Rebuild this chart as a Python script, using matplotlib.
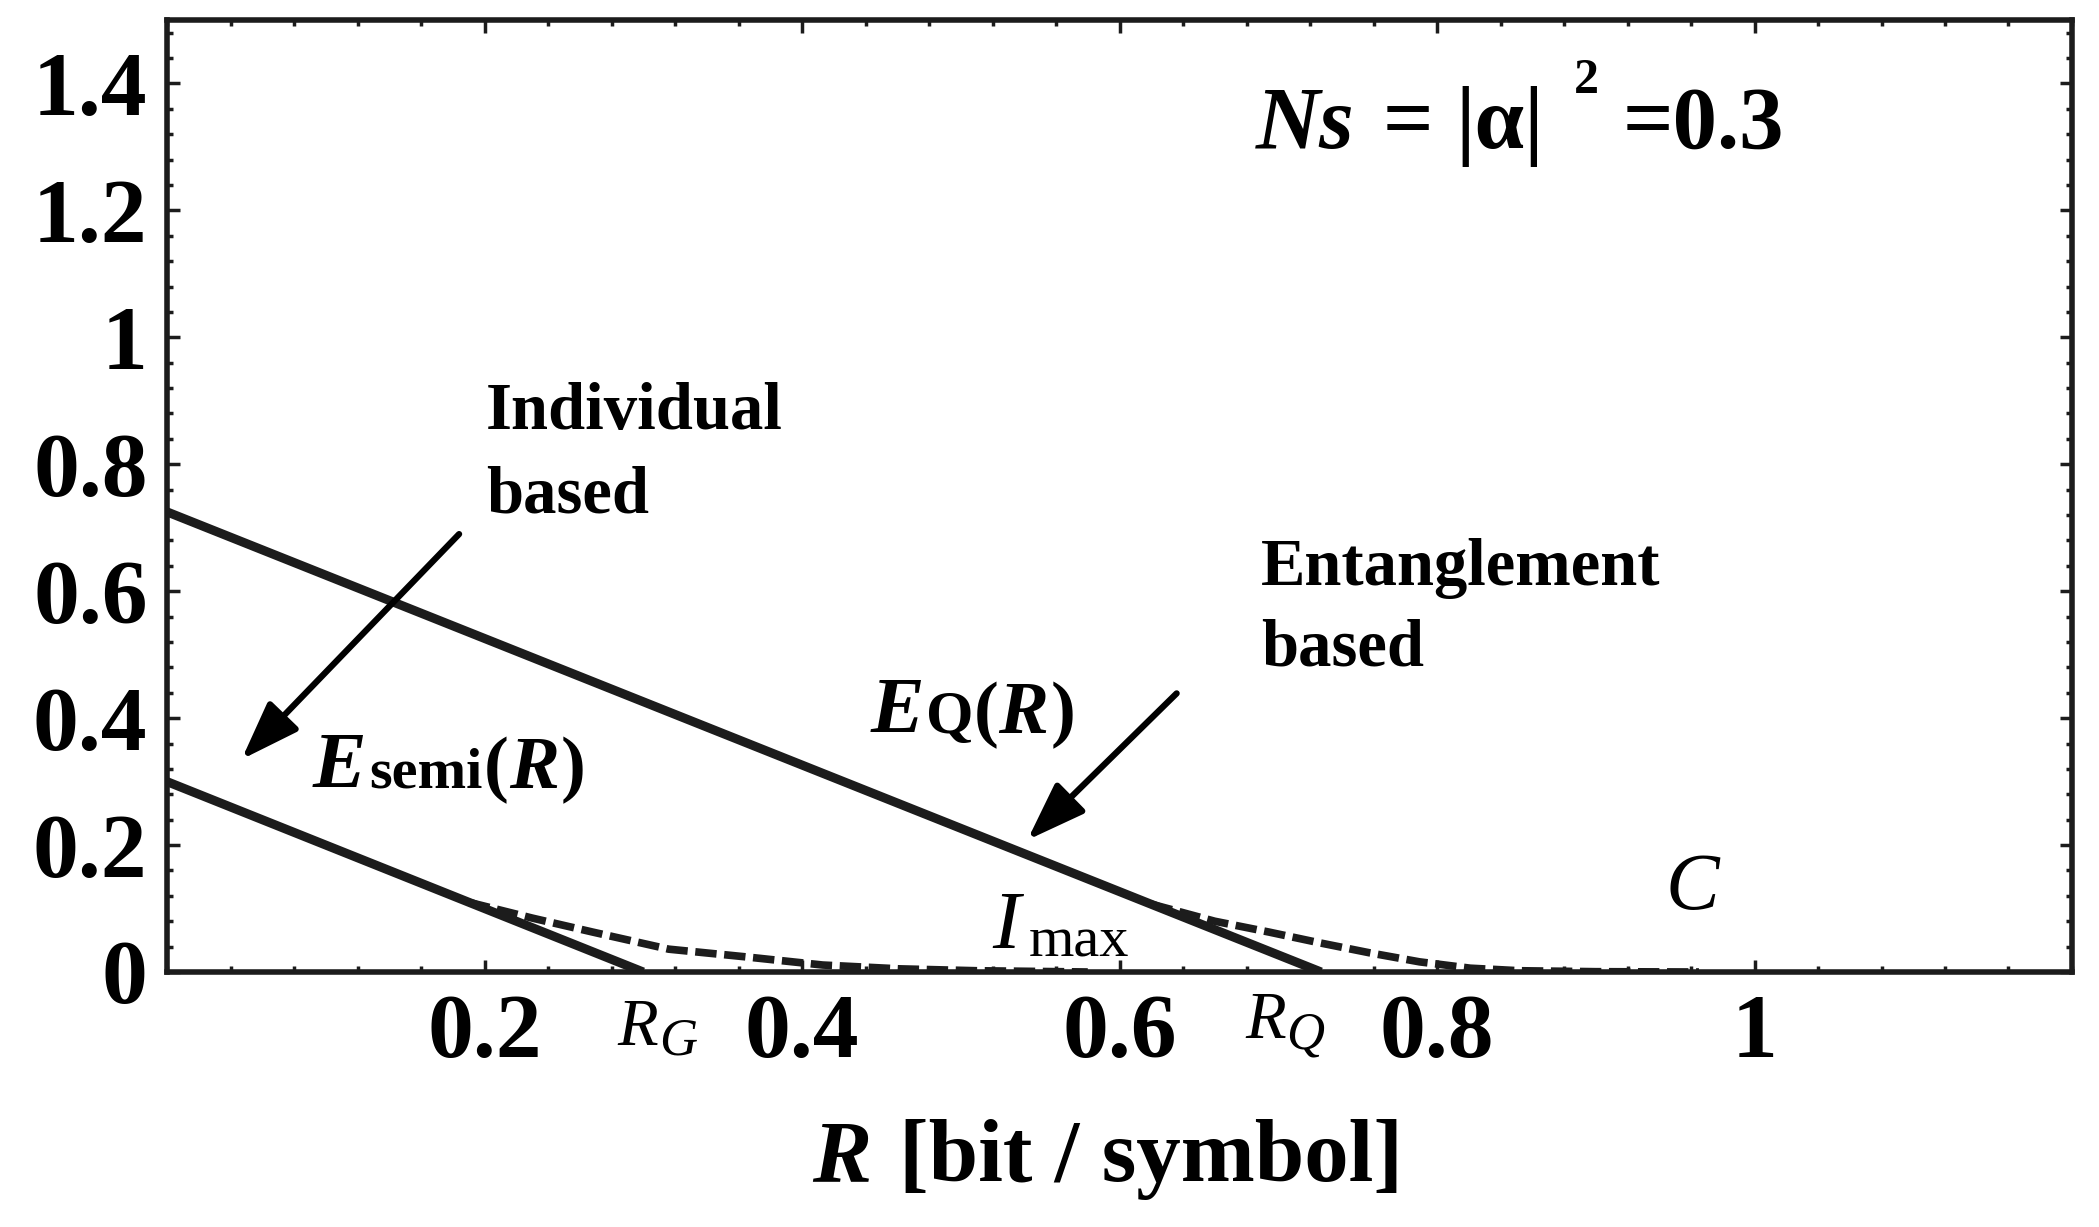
import matplotlib
matplotlib.use('Agg')
import matplotlib.pyplot as plt
from matplotlib.transforms import IdentityTransform
from matplotlib.ticker import MultipleLocator

plt.rcParams['font.family'] = ['Liberation Serif', 'DejaVu Serif']

# straight-line error exponents
semi_R = [0.0, 0.30]
semi_E = [0.30, 0.0]
q_R = [0.0, 0.727]
q_E = [0.725, 0.0]

# dashed I_max curves
imax_semi_R = [0.19, 0.23, 0.268, 0.316, 0.364, 0.413, 0.461, 0.51, 0.58]
imax_semi_E = [0.11, 0.085, 0.063, 0.036, 0.024, 0.011, 0.005, 0.002, 0.0]
imax_q_R = [0.62, 0.66, 0.694, 0.726, 0.758, 0.789, 0.821, 0.852, 0.90, 0.965]
imax_q_E = [0.107, 0.08, 0.063, 0.046, 0.030, 0.016, 0.006, 0.002, 0.0005, 0.0]

xticks = [0.2, 0.4, 0.6, 0.8, 1.0]
xtick_labels = ['0.2', '0.4', '0.6', '0.8', '1']
yticks = [0, 0.2, 0.4, 0.6, 0.8, 1.0, 1.2, 1.4]
ytick_labels = ['0', '0.2', '0.4', '0.6', '0.8', '1', '1.2', '1.4']

W, H = 2099, 1227
fig = plt.figure(figsize=(W / 100, H / 100), dpi=100)
ax = fig.add_axes([167 / W, 1 - 972 / H, (2072 - 167) / W, (972 - 20) / H])

line_col = '#1c1c1c'
ax.plot(semi_R, semi_E, color=line_col, lw=6.5, solid_capstyle='butt')
ax.plot(q_R, q_E, color=line_col, lw=6.5, solid_capstyle='butt')
ax.plot(imax_semi_R, imax_semi_E, color=line_col, lw=5.5, dashes=(2.8, 1.0))
ax.plot(imax_q_R, imax_q_E, color=line_col, lw=5.5, dashes=(2.8, 1.0))

ax.set_xlim(0, 1.2)
ax.set_ylim(0, 1.5)
ax.set_xticks(xticks, xtick_labels)
ax.set_yticks(yticks, ytick_labels)
ax.xaxis.set_minor_locator(MultipleLocator(0.04))
ax.yaxis.set_minor_locator(MultipleLocator(0.04))
ax.tick_params(which='both', direction='in', top=True, right=True, width=2.5, color=line_col)
ax.tick_params(which='major', length=9)
ax.tick_params(which='minor', length=4)
ax.tick_params(axis='x', pad=16, labelsize=66)
ax.tick_params(axis='y', pad=14, labelsize=66)
for lab in ax.get_xticklabels() + ax.get_yticklabels():
    lab.set_fontweight('bold')
for sp in ax.spines.values():
    sp.set_linewidth(4)
    sp.set_color(line_col)

renderer = fig.canvas.get_renderer()


def chain(x, y, parts, data=True):
    # parts: (text, size, style, weight, gap_px, dy_px)
    if data:
        px, py = ax.transData.transform((x, y))
    else:
        px, py = x, H - y
    for s, size, style, weight, gap, dy in parts:
        t = fig.text(px + gap, py + dy, s, transform=IdentityTransform(),
                     fontsize=size, style=style, weight=weight,
                     ha='left', va='baseline')
        px = px + gap + t.get_window_extent(renderer).width


# annotations
chain(0.686, 1.299, [('Ns', 64, 'italic', 'bold', 0, 0),
                     ('=', 64, 'normal', 'bold', 28, 0),
                     ('|α|', 64, 'normal', 'bold', 22, 0),
                     ('2', 36, 'normal', 'bold', 30, 55),
                     ('=0.3', 64, 'normal', 'bold', 24, 0)])

ax.text(0.201, 0.855, 'Individual', fontsize=48, weight='bold', ha='left', va='baseline')
ax.text(0.201, 0.724, 'based', fontsize=48, weight='bold', ha='left', va='baseline')
ax.text(0.689, 0.609, 'Entanglement', fontsize=48, weight='bold', ha='left', va='baseline')
ax.text(0.689, 0.483, 'based', fontsize=48, weight='bold', ha='left', va='baseline')

chain(0.092, 0.29, [('E', 58, 'italic', 'bold', 0, 0),
                    ('semi', 42, 'normal', 'bold', 2, 0),
                    ('(', 54, 'normal', 'bold', 2, 0),
                    ('R', 54, 'italic', 'bold', 0, 0),
                    (')', 54, 'normal', 'bold', 2, 0)])
chain(0.443, 0.376, [('E', 58, 'italic', 'bold', 0, 0),
                     ('Q', 44, 'normal', 'bold', 2, 0),
                     ('(', 54, 'normal', 'bold', 0, 0),
                     ('R', 54, 'italic', 'bold', 0, 0),
                     (')', 54, 'normal', 'bold', 2, 0)])
chain(0.52, 0.038, [('I', 60, 'italic', 'normal', 0, 0),
                    ('max', 42, 'normal', 'normal', 8, -9)])
ax.text(0.944, 0.10, 'C', fontsize=58, style='italic', ha='left', va='baseline')

chain(0.284, -0.115, [('R', 48, 'italic', 'normal', 0, 0),
                      ('G', 38, 'italic', 'normal', 0, -10)])
chain(0.679, -0.104, [('R', 48, 'italic', 'normal', 0, 0),
                      ('Q', 38, 'italic', 'normal', 0, -10)])

# x label
chain(812, 1181, [('R', 64, 'italic', 'bold', 0, 0),
                  ('[bit / symbol]', 64, 'normal', 'bold', 28, 0)], data=False)

# arrows
arrow = dict(arrowstyle='-|>,head_length=0.9,head_width=0.32', lw=4.5,
             color='black', mutation_scale=40, shrinkA=0, shrinkB=0)
ax.annotate('', xy=(0.047, 0.335), xytext=(0.184, 0.690), arrowprops=arrow)
ax.annotate('', xy=(0.542, 0.208), xytext=(0.636, 0.439), arrowprops=arrow)

fig.savefig('out.png', dpi=100)
